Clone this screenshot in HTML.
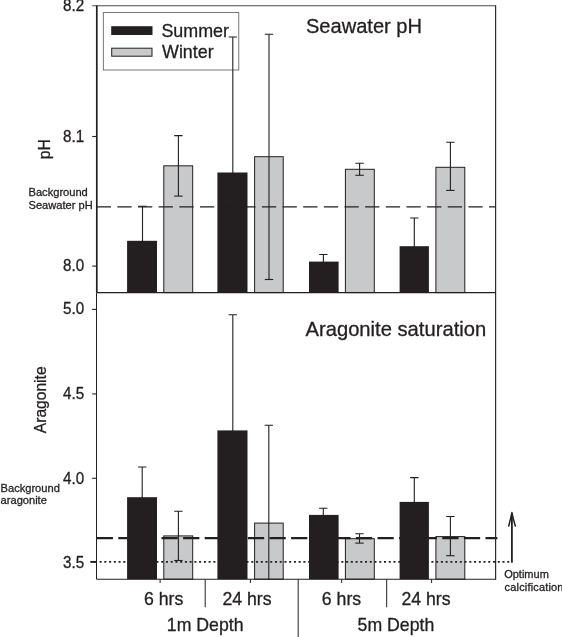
<!DOCTYPE html>
<html><head><meta charset="utf-8"><title>Seawater pH and Aragonite saturation</title>
<style>html,body{margin:0;padding:0;background:#fff}svg{display:block}text{font-family:"Liberation Sans",Arial,sans-serif;fill:#231f20;stroke:#231f20;stroke-width:0.3px}</style></head><body>
<svg width="562" height="637" viewBox="0 0 562 637">
<rect width="562" height="637" fill="#fff"/>
<rect x="103.3" y="12.6" width="135.5" height="57.4" fill="#fff" stroke="#555" stroke-width="0.8"/>
<rect x="127.1" y="240.8" width="29.9" height="51.8" fill="#231f20"/>
<rect x="163.8" y="165.8" width="28.9" height="126.8" fill="#c8c9cb" stroke="#231f20" stroke-width="1"/>
<rect x="217.4" y="172.5" width="30.1" height="120.1" fill="#231f20"/>
<rect x="254.6" y="156.7" width="28.6" height="135.9" fill="#c8c9cb" stroke="#231f20" stroke-width="1"/>
<rect x="309.0" y="261.6" width="29.6" height="31.0" fill="#231f20"/>
<rect x="345.4" y="169.3" width="28.9" height="123.3" fill="#c8c9cb" stroke="#231f20" stroke-width="1"/>
<rect x="399.6" y="246.2" width="29.3" height="46.4" fill="#231f20"/>
<rect x="435.9" y="167.3" width="28.9" height="125.3" fill="#c8c9cb" stroke="#231f20" stroke-width="1"/>
<path d="M138.3 206.3H146.7M142.5 206.3V241.8" stroke="#231f20" stroke-width="1.1" fill="none"/>
<path d="M174.2 135.6H182.6M178.4 135.6V196.1" stroke="#231f20" stroke-width="1.1" fill="none"/>
<path d="M174.2 196.1H182.6" stroke="#231f20" stroke-width="1.1" fill="none"/>
<path d="M228.6 37.0H237.0M232.8 37.0V173.5" stroke="#231f20" stroke-width="1.1" fill="none"/>
<path d="M264.8 34.2H273.2M269.0 34.2V279.5" stroke="#231f20" stroke-width="1.1" fill="none"/>
<path d="M264.8 279.5H273.2" stroke="#231f20" stroke-width="1.1" fill="none"/>
<path d="M319.2 254.5H327.6M323.4 254.5V262.6" stroke="#231f20" stroke-width="1.1" fill="none"/>
<path d="M355.4 163.2H363.8M359.6 163.2V175.3" stroke="#231f20" stroke-width="1.1" fill="none"/>
<path d="M355.4 175.3H363.8" stroke="#231f20" stroke-width="1.1" fill="none"/>
<path d="M410.1 218.0H418.5M414.3 218.0V247.2" stroke="#231f20" stroke-width="1.1" fill="none"/>
<path d="M446.2 142.3H454.6M450.4 142.3V190.4" stroke="#231f20" stroke-width="1.1" fill="none"/>
<path d="M446.2 190.4H454.6" stroke="#231f20" stroke-width="1.1" fill="none"/>
<rect x="127.1" y="497.2" width="29.9" height="82.0" fill="#231f20"/>
<rect x="163.8" y="535.9" width="28.9" height="43.3" fill="#c8c9cb" stroke="#231f20" stroke-width="1"/>
<rect x="217.4" y="430.4" width="30.1" height="148.8" fill="#231f20"/>
<rect x="254.6" y="523.1" width="28.6" height="56.1" fill="#c8c9cb" stroke="#231f20" stroke-width="1"/>
<rect x="309.0" y="514.9" width="29.6" height="64.3" fill="#231f20"/>
<rect x="345.4" y="538.7" width="28.9" height="40.5" fill="#c8c9cb" stroke="#231f20" stroke-width="1"/>
<rect x="399.6" y="501.9" width="29.3" height="77.3" fill="#231f20"/>
<rect x="435.9" y="536.6" width="28.9" height="42.6" fill="#c8c9cb" stroke="#231f20" stroke-width="1"/>
<path d="M138.0 467.0H146.4M142.2 467.0V498.2" stroke="#231f20" stroke-width="1.1" fill="none"/>
<path d="M174.2 511.2H182.6M178.4 511.2V560.5" stroke="#231f20" stroke-width="1.1" fill="none"/>
<path d="M174.2 560.5H182.6" stroke="#231f20" stroke-width="1.1" fill="none"/>
<path d="M228.6 314.8H237.0M232.8 314.8V431.4" stroke="#231f20" stroke-width="1.1" fill="none"/>
<path d="M264.6 425.3H273.0M268.8 425.3V579.2" stroke="#231f20" stroke-width="1.1" fill="none"/>
<path d="M319.1 508.3H327.5M323.3 508.3V515.9" stroke="#231f20" stroke-width="1.1" fill="none"/>
<path d="M355.3 533.7H363.7M359.5 533.7V543.1" stroke="#231f20" stroke-width="1.1" fill="none"/>
<path d="M355.3 543.1H363.7" stroke="#231f20" stroke-width="1.1" fill="none"/>
<path d="M410.1 477.6H418.5M414.3 477.6V502.9" stroke="#231f20" stroke-width="1.1" fill="none"/>
<path d="M446.2 516.5H454.6M450.4 516.5V555.7" stroke="#231f20" stroke-width="1.1" fill="none"/>
<path d="M446.2 555.7H454.6" stroke="#231f20" stroke-width="1.1" fill="none"/>
<rect x="111.2" y="26.2" width="41.3" height="8.8" fill="#231f20"/>
<rect x="111.7" y="48.2" width="40.3" height="8" fill="#c8c9cb" stroke="#231f20" stroke-width="1"/>
<text x="161.4" y="37" font-size="17.9">Summer</text>
<text x="162" y="58.4" font-size="17.9">Winter</text>
<path d="M96.7 206.9H495.6" stroke="#231f20" stroke-width="1.1" stroke-dasharray="14.3 6.35" fill="none"/>
<path d="M96.7 538.1H497.4" stroke="#231f20" stroke-width="2.2" stroke-dasharray="16.25 5.35" fill="none"/>
<path d="M99.6 561.9H511.8" stroke="#231f20" stroke-width="1.9" stroke-dasharray="2 2.74" fill="none"/>
<path d="M90.3 561.9H96.7" stroke="#231f20" stroke-width="1.9" fill="none"/>
<path d="M92.2 5.7H495.6" stroke="#4a4a4a" stroke-width="1.1" fill="none"/>
<path d="M495.6 5.2V579.7" stroke="#2e2b2c" stroke-width="1.2" fill="none"/>
<path d="M96.8 5.6V292.6" stroke="#231f20" stroke-width="1.7" fill="none"/>
<path d="M96.5 292.6V579.2" stroke="#231f20" stroke-width="1" fill="none"/>
<path d="M96.7 292.6H495.6" stroke="#231f20" stroke-width="1.2" fill="none"/>
<path d="M96.5 579.2H495.6" stroke="#231f20" stroke-width="1.1" fill="none"/>
<path d="M92.2 136.5H96.7" stroke="#231f20" stroke-width="1.1" fill="none"/>
<path d="M92.2 266.1H96.7" stroke="#231f20" stroke-width="1.1" fill="none"/>
<path d="M92.2 309.4H96.7" stroke="#231f20" stroke-width="1.1" fill="none"/>
<path d="M92.2 393.9H96.7" stroke="#231f20" stroke-width="1.1" fill="none"/>
<path d="M92.2 478.3H96.7" stroke="#231f20" stroke-width="1.1" fill="none"/>
<path d="M92.2 561.8H96.7" stroke="#231f20" stroke-width="1.1" fill="none"/>
<text transform="translate(84.2 11.0) scale(1 1.04)" font-size="15.2" text-anchor="end">8.2</text>
<text transform="translate(84.2 142.0) scale(1 1.04)" font-size="15.2" text-anchor="end">8.1</text>
<text transform="translate(84.2 271.2) scale(1 1.04)" font-size="15.2" text-anchor="end">8.0</text>
<text transform="translate(84.2 313.9) scale(1 1.04)" font-size="15.2" text-anchor="end">5.0</text>
<text transform="translate(84.2 399.3) scale(1 1.04)" font-size="15.2" text-anchor="end">4.5</text>
<text transform="translate(84.2 483.6) scale(1 1.04)" font-size="15.2" text-anchor="end">4.0</text>
<text transform="translate(84.2 567.8) scale(1 1.04)" font-size="15.2" text-anchor="end">3.5</text>
<path d="M160.1 579.2V583.0" stroke="#231f20" stroke-width="1" fill="none"/>
<path d="M250.4 579.2V583.0" stroke="#231f20" stroke-width="1" fill="none"/>
<path d="M341.7 579.2V583.0" stroke="#231f20" stroke-width="1" fill="none"/>
<path d="M431.6 579.2V583.0" stroke="#231f20" stroke-width="1" fill="none"/>
<path d="M205.2 579.2V607.3" stroke="#231f20" stroke-width="1" fill="none"/>
<path d="M386.7 579.2V607.3" stroke="#231f20" stroke-width="1" fill="none"/>
<path d="M298.2 579.2V637" stroke="#231f20" stroke-width="1" fill="none"/>
<text x="144" y="605.2" font-size="17.7">6 hrs</text>
<text x="222.4" y="605.2" font-size="17.7">24 hrs</text>
<text x="321.8" y="605.2" font-size="17.7">6 hrs</text>
<text x="401.4" y="605.2" font-size="17.7">24 hrs</text>
<text x="166.8" y="631" font-size="17.7">1m Depth</text>
<text x="357.6" y="631" font-size="17.7">5m Depth</text>
<text x="305.9" y="33.2" font-size="20.1">Seawater pH</text>
<text x="305.5" y="336.4" font-size="20.2">Aragonite saturation</text>
<text transform="translate(49.8 159.2) rotate(-90) scale(1 1.07)" font-size="15.7">pH</text>
<text transform="translate(46 433.2) rotate(-90)" font-size="15.6">Aragonite</text>
<text x="28.5" y="196.4" font-size="11.12">Background</text>
<text x="28.5" y="209.2" font-size="11.12">Seawater pH</text>
<text x="0.6" y="491.6" font-size="11.1">Background</text>
<text x="0.6" y="504.2" font-size="11.1">aragonite</text>
<text x="504.2" y="578" font-size="11">Optimum</text>
<text x="504.6" y="590.5" font-size="11" letter-spacing="0.17">calcification</text>
<path d="M511.9 562.7V513" stroke="#231f20" stroke-width="1.8" fill="none"/>
<path d="M508.7 526Q510.6 519 511.9 512.6Q513.2 519 515.3 526" stroke="#231f20" stroke-width="1.5" fill="none" stroke-linejoin="round" stroke-linecap="round"/>
</svg></body></html>
